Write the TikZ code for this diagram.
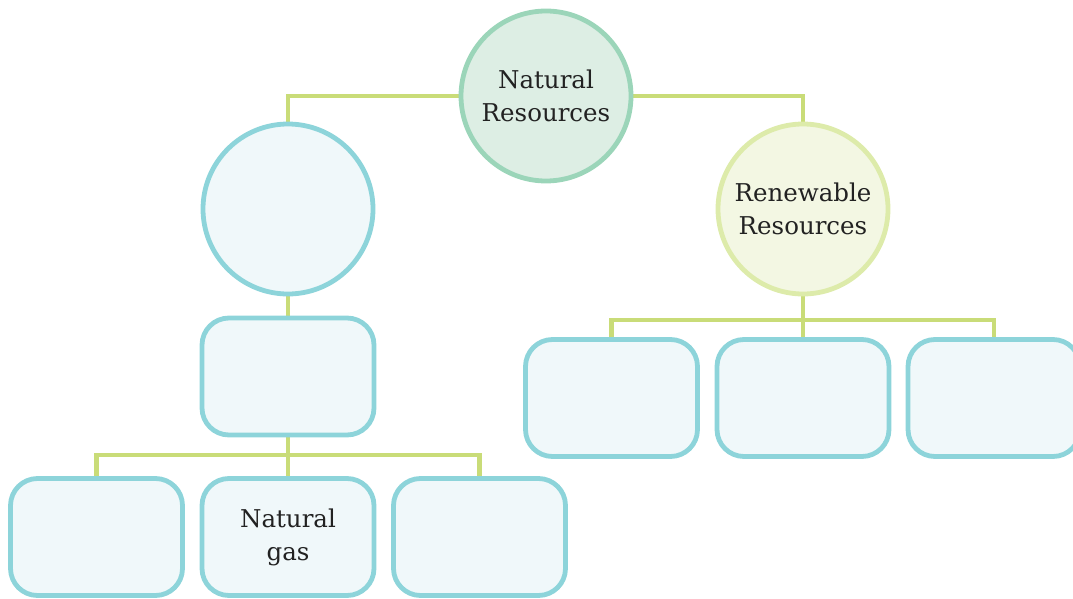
\documentclass[tikz,border=0pt]{standalone}
\usepackage{fontspec}
\setmainfont{DejaVu Serif}
\usetikzlibrary{backgrounds}
\definecolor{linkgreen}{HTML}{C9DC78}
\definecolor{topdraw}{HTML}{9BD5B9}
\definecolor{topfill}{HTML}{DDEEE4}
\definecolor{bluedraw}{HTML}{8DD4DA}
\definecolor{bluefill}{HTML}{F0F8FA}
\definecolor{renewdraw}{HTML}{DDEBAA}
\definecolor{renewfill}{HTML}{F3F7E3}
\definecolor{txt}{HTML}{222222}
\begin{document}
\begin{tikzpicture}
    [%%%%%%%%%%%%%%%%%%%%%%%%%%%%%%
        x=1pt,y=-1pt,
        every node/.style={text=txt,align=center,font=\fontsize{24.5}{33}\selectfont},
        circ/.style={circle,line width=4.8pt,minimum size=170pt,inner sep=0pt},
        topcirc/.style={circ,draw=topdraw,fill=topfill},
        bluecirc/.style={circ,draw=bluedraw,fill=bluefill},
        renewcirc/.style={circ,draw=renewdraw,fill=renewfill},
        bluebox/.style={rectangle,rounded corners=27pt,draw=bluedraw,fill=bluefill,
            line width=4.8pt,minimum width=172pt,minimum height=117pt,inner sep=0pt},
        link/.style={draw=linkgreen,line width=4.5pt}
    ]%%%%%%%%%%%%%%%%%%%%%%%%%%%%%%

\useasboundingbox (0,0) rectangle (1073,599);

\node[topcirc] (nat) at (546,96) {Natural\\Resources};
\node[bluecirc] (nonrenew) at (288,209) {};
\node[renewcirc] (renew) at (803,209) {Renewable\\Resources};
\node[bluebox] (fossil) at (288,376.5) {};

\node[bluebox] (low1) at (96.5,537) {};
\node[bluebox] (low2) at (288,537) {Natural\\gas};
\node[bluebox] (low3) at (479.5,537) {};

\foreach \n/\x in {1/611.5,2/803,3/994}
    \node[bluebox] (high\n) at (\x,398) {};

\coordinate (fork) at (288,455);
\coordinate (rfork) at (803,320);

\begin{scope}[on background layer]
\draw[link] (nat.west) -| (nonrenew.north);
\draw[link] (nat.east) -| (renew.north);
\draw[link] (nonrenew.south) -- (fossil.north);
\draw[link] (fossil.south) -- (fork);
\foreach \n in {1,2,3}
    \draw[link] (fork) -| (low\n.north);
\draw[link] (renew.south) -- (rfork);
\foreach \n in {1,2,3}
    \draw[link] (rfork) -| (high\n.north);
\end{scope}

\end{tikzpicture}
\end{document}
